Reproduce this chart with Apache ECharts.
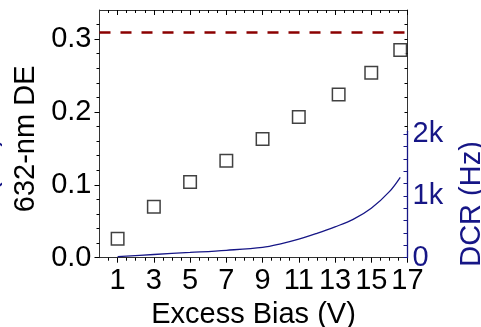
<!DOCTYPE html>
<html>
<head>
<meta charset="utf-8">
<script src="https://cdn.jsdelivr.net/npm/echarts@6/dist/echarts.min.js"></script>
<style>
html,body{margin:0;padding:0;background:#fff;}
#c{width:481px;height:327px;}
</style>
</head>
<body>
<div id="c"></div>
<script>
// ---- data ----
const xTickValues = [1, 3, 5, 7, 9, 11, 13, 15, 17];
const xMinorTickValues = [0.5, 1.5, 2, 2.5, 3.5, 4, 4.5, 5.5, 6, 6.5, 7.5, 8, 8.5, 9.5, 10, 10.5, 11.5, 12, 12.5, 13.5, 14, 14.5, 15.5, 16, 16.5];
const deTickValues = [0, 0.1, 0.2, 0.3];
const deMinorTickValues = [0.02, 0.04, 0.06, 0.08, 0.12, 0.14, 0.16, 0.18, 0.22, 0.24, 0.26, 0.28, 0.32];
const frameRightTickValues = [0.18, 0.2, 0.22, 0.24, 0.26, 0.28, 0.3, 0.32];
const dcrTickValues = [0, 1000, 2000];
const dcrTickMarks = [0, 200, 400, 600, 800, 1000, 1200, 1400, 1600, 1800, 2000];

const biasDE = [1, 3, 5, 7, 9, 11, 13.2, 15, 16.6];
const deValues = [0.026, 0.070, 0.104, 0.133, 0.163, 0.193, 0.224, 0.254, 0.285];
const deLimit = 0.311;

const biasDCR = [1, 3, 5, 7, 9, 10, 11, 12, 13, 14, 15, 16, 16.6];
const dcrValues = [16, 52, 85, 120, 168, 225, 300, 395, 500, 620, 800, 1070, 1303];

// ---- styles ----
const FONT = 'Liberation Sans, Arial, sans-serif';
const FS = 29;
const NAVY = '#161686';
const AXC = '#333';

const chart = echarts.init(document.getElementById('c'), null, {renderer: 'canvas'});

const G0 = {left: 99.5, right: 73.5, top: 10, bottom: 69.3};
const G1 = {left: 99.5, right: 73.5, top: 131.2, bottom: 69.3};

function hiddenTickAxis(base, vals, len, inside) {
  return Object.assign({
    type: 'value',
    axisLine: {show: false, onZero: false},
    axisLabel: {show: false},
    splitLine: {show: false},
    axisTick: {show: true, customValues: vals, length: len, inside: inside, lineStyle: {color: '#000', width: 1}}
  }, base);
}

const option = {
  animation: false,
  backgroundColor: '#fff',
  grid: [
    Object.assign({containLabel: false, outerBoundsMode: 'none'}, G0),
    Object.assign({containLabel: false, outerBoundsMode: 'none'}, G1)
  ],
  xAxis: [
    { // 0 bottom majors + labels
      type: 'value', gridIndex: 0, position: 'bottom', min: 0, max: 17,
      name: 'Excess Bias (V)', nameLocation: 'middle', nameGap: 35,
      nameTextStyle: {fontFamily: FONT, fontSize: FS, color: '#000'},
      axisLine: {show: true, onZero: false, lineStyle: {color: AXC, width: 1}},
      axisTick: {show: true, customValues: xTickValues, length: 5, inside: false, lineStyle: {color: '#000'}},
      axisLabel: {show: true, customValues: xTickValues, margin: 9, fontFamily: FONT, fontSize: FS, color: '#000'},
      splitLine: {show: false}
    },
    hiddenTickAxis({gridIndex: 0, position: 'bottom', min: 0, max: 17}, xMinorTickValues, 3, false), // 1
    { // 2 top frame majors
      type: 'value', gridIndex: 0, position: 'top', min: 0, max: 17,
      axisLine: {show: true, onZero: false, lineStyle: {color: AXC, width: 1}},
      axisTick: {show: true, customValues: xTickValues, length: 5, inside: true, lineStyle: {color: '#000'}},
      axisLabel: {show: false}, splitLine: {show: false}
    },
    hiddenTickAxis({gridIndex: 0, position: 'top', min: 0, max: 17}, xMinorTickValues, 3, true), // 3
    { // 4 grid1 x (hidden)
      type: 'value', gridIndex: 1, position: 'bottom', min: 0, max: 17, show: false,
      axisLine: {onZero: false}
    }
  ],
  yAxis: [
    { // 0 left DE
      type: 'value', gridIndex: 0, position: 'left', min: 0, max: 0.34,
      name: '632-nm DE', nameLocation: 'middle', nameGap: 59,
      nameTextStyle: {fontFamily: FONT, fontSize: FS, color: '#000', padding: [0, 10, 0, 0]},
      axisLine: {show: true, onZero: false, lineStyle: {color: AXC, width: 1}},
      axisTick: {show: true, customValues: deTickValues, length: 5, inside: false, lineStyle: {color: '#000'}},
      axisLabel: {show: true, customValues: deTickValues, margin: 8, fontFamily: FONT, fontSize: FS, color: '#000',
        formatter: v => v.toFixed(1)},
      splitLine: {show: false}
    },
    hiddenTickAxis({gridIndex: 0, position: 'left', min: 0, max: 0.34}, deMinorTickValues, 3, false), // 1
    { // 2 right frame (black)
      type: 'value', gridIndex: 0, position: 'right', min: 0, max: 0.34,
      axisLine: {show: true, onZero: false, lineStyle: {color: AXC, width: 1}},
      axisTick: {show: true, customValues: frameRightTickValues, length: 3, inside: true, lineStyle: {color: '#000'}},
      axisLabel: {show: false}, splitLine: {show: false}
    },
    { // 3 right DCR (blue)
      type: 'value', gridIndex: 1, position: 'right', min: 0, max: 2050, z: 5,
      name: 'DCR (Hz)', nameLocation: 'middle', nameGap: 50,
      nameTextStyle: {fontFamily: FONT, fontSize: FS, color: NAVY, padding: [0, 19, 0, 0]},
      axisLine: {show: true, onZero: false, lineStyle: {color: NAVY, width: 1.3}},
      axisTick: {show: true, customValues: dcrTickMarks, length: 4, inside: true, lineStyle: {color: NAVY}},
      axisLabel: {show: true, customValues: dcrTickValues, margin: 5, fontFamily: FONT, fontSize: FS, color: NAVY,
        formatter: v => v === 0 ? '0' : (v / 1000) + 'k'},
      splitLine: {show: false}
    }
  ],
  graphic: [
    {
      type: 'text', x: -12, y: 200, z: 10,
      rotation: Math.PI / 2,
      style: {text: 'DCR (Hz)', font: FS + 'px ' + FONT, fill: NAVY, textAlign: 'center', textVerticalAlign: 'middle'}
    }
  ],
  series: [
    {
      type: 'line', xAxisIndex: 4, yAxisIndex: 3, smooth: 0.35,
      showSymbol: false, symbol: 'none',
      lineStyle: {color: NAVY, width: 1.3},
      data: biasDCR.map((x, i) => [x, dcrValues[i]]),
      z: 3
    },
    {
      type: 'scatter', xAxisIndex: 0, yAxisIndex: 0,
      symbol: 'rect', symbolSize: 12.5,
      itemStyle: {color: '#fff', borderColor: '#111', borderWidth: 1.5},
      data: biasDE.map((x, i) => [x, deValues[i]]),
      markLine: {
        silent: true, symbol: ['none', 'none'], label: {show: false},
        lineStyle: {color: '#8b0000', width: 2.7, type: [11, 10]},
        data: [{yAxis: deLimit}]
      },
      z: 4
    }
  ]
};
chart.setOption(option);
</script>
</body>
</html>
